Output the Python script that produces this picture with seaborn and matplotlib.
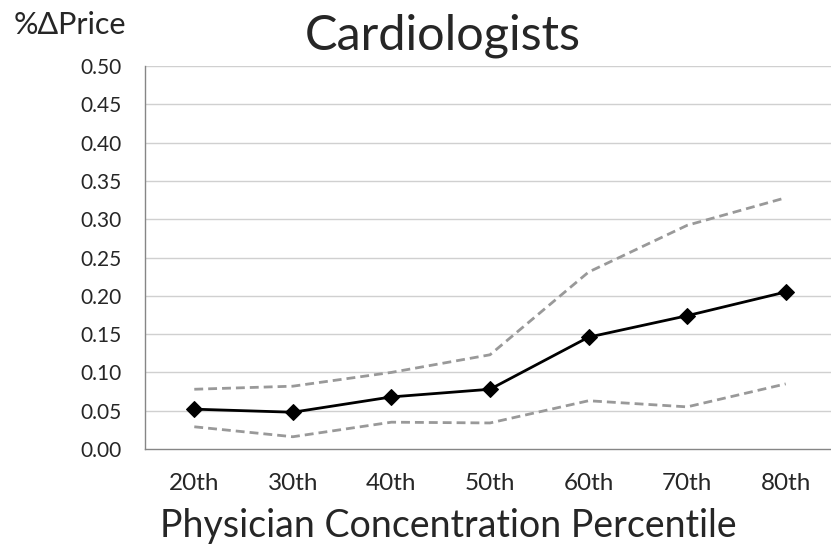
import matplotlib
matplotlib.use("Agg")
import matplotlib.pyplot as plt
import seaborn as sns
import pandas as pd
import numpy as np

# Percentile categories and estimated price effects
percentiles = ["20th", "30th", "40th", "50th", "60th", "70th", "80th"]
estimate = [0.052, 0.048, 0.068, 0.078, 0.146, 0.174, 0.205]
upper_ci = [0.078, 0.082, 0.100, 0.123, 0.231, 0.292, 0.328]
lower_ci = [0.029, 0.016, 0.035, 0.034, 0.063, 0.055, 0.085]
y_ticks = [0.00, 0.05, 0.10, 0.15, 0.20, 0.25, 0.30, 0.35, 0.40, 0.45, 0.50]

sns.set_style("white")
plt.rcParams["font.family"] = ["Lato", "DejaVu Sans"]

df = pd.DataFrame({
    "pct": percentiles,
    "est": estimate,
    "hi": upper_ci,
    "lo": lower_ci,
})

fig = plt.figure(figsize=(8.31, 5.44), dpi=100)
ax = fig.add_axes([145 / 831, (544 - 449) / 544, 690 / 831, 383 / 544])

grid_c = "#d0d0d0"
axis_c = "#868686"
band_c = "#999999"

for v in y_ticks[1:]:
    ax.axhline(v, color=grid_c, lw=1.0, zorder=0)

dash = (0, (3.2, 1.8))
sns.lineplot(data=df, x="pct", y="hi", ax=ax, color=band_c, lw=2.0,
             linestyle=dash, sort=False, zorder=2)
sns.lineplot(data=df, x="pct", y="lo", ax=ax, color=band_c, lw=2.0,
             linestyle=dash, sort=False, zorder=2)
sns.lineplot(data=df, x="pct", y="est", ax=ax, color="black", lw=2.0,
             marker="D", markersize=8, markeredgecolor="black",
             markerfacecolor="black", sort=False, zorder=3)

ax.set_xlim(-0.5, 6.5)
ax.set_ylim(0, 0.5)
ax.set_yticks(y_ticks)
ax.set_yticklabels([f"{v:.2f}" for v in y_ticks], fontsize=15)
ax.set_xticks(range(len(percentiles)))
ax.set_xticklabels(percentiles, fontsize=17.5)
ax.set_xticks(np.arange(-0.5, len(percentiles), 1.0), minor=True)
ax.tick_params(axis="x", which="major", length=0, pad=17)
ax.tick_params(axis="x", which="minor", length=5.8, width=1.0, color=axis_c, direction="out")
ax.tick_params(axis="y", length=5.8, width=1.0, color=axis_c, direction="out", pad=11)
ax.set_xlabel("")
ax.set_ylabel("")

for side in ["top", "right"]:
    ax.spines[side].set_visible(False)
for side in ["left", "bottom"]:
    ax.spines[side].set_color(axis_c)
    ax.spines[side].set_linewidth(1.0)

fig.text(443 / 831, 1 - 50 / 544, "Cardiologists", ha="center", va="baseline", fontsize=35)
fig.text(14 / 831, 1 - 34 / 544, "%ΔPrice", ha="left", va="baseline", fontsize=22)
fig.text(448 / 831, 1 - 537 / 544, "Physician Concentration Percentile",
         ha="center", va="baseline", fontsize=27)

fig.savefig("out.png", dpi=100)
